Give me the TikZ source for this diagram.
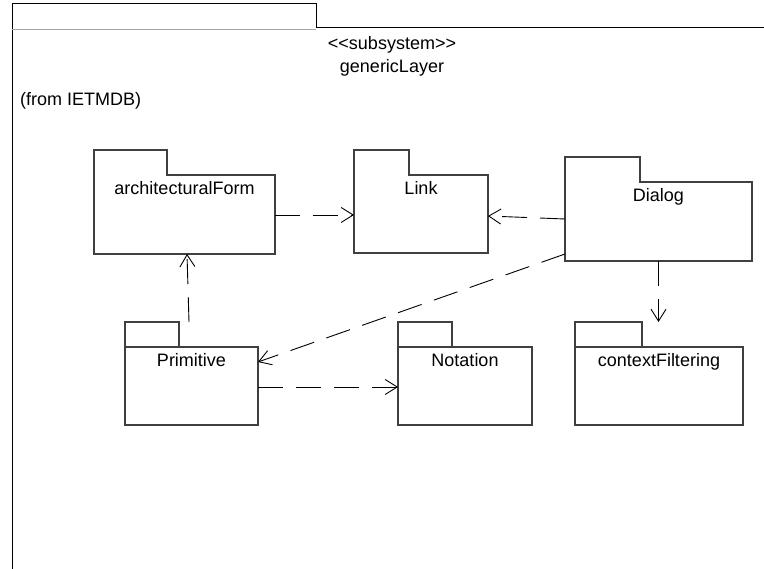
\documentclass[tikz,border=0pt]{standalone}
\usepackage{fontspec}
\setmainfont{Liberation Sans}
\usetikzlibrary{arrows.meta}

% outline of a UML package: tab on the upper left, body below
% #1 = node spanning tab and body, #2 = tab width
\newcommand\pkgoutline[2]{%
  \draw[pkgline] (#1.north west) -- ++(#2,0) -- ++(0,25)
    -| (#1.south east) -| (#1.north west) -- cycle;%
}
% same, with the body's top edge continued under the tab
\newcommand\pkgoutlinefull[2]{%
  \pkgoutline{#1}{#2}%
  \draw[pkgline] (#1.north west) ++(0,25) -- ++(#2,0);%
}

\begin{document}
\begin{tikzpicture}[x=1pt,y=-1pt,
  lbl/.style={font=\fontsize{18}{21}\selectfont, inner sep=0pt, anchor=base},
  pkgbox/.style={draw=none, inner sep=0pt, outer sep=0pt, rectangle, anchor=north west},
  pkgline/.style={draw=black!75, line width=1.1pt},
  dep/.style={draw=black, line width=0.9pt, dash pattern=on 25pt off 13pt,
    -{Straight Barb[length=12pt,width=15pt]}},
]
\useasboundingbox (0,0) rectangle (764,569);

% enclosing subsystem frame
\draw[black, line width=1pt] (12,569) -- (12,4) -- (316,4) -- (316,28) -- (764,28);
\draw[black!35, line width=0.8pt] (12,29) -- (316,29);
\node[lbl] (stereo) at (392,50) {<{}<subsystem>{}>};
\node[lbl] (sysname) at (392,73) {genericLayer};
\node[lbl, anchor=base west] (origin) at (20,106) {(from IETMDB)};

% packages
\node[pkgbox, minimum width=181pt, minimum height=104pt] (af) at (94,150) {};
\node[pkgbox, minimum width=134pt, minimum height=103pt] (ln) at (354,150) {};
\node[pkgbox, minimum width=187pt, minimum height=104pt] (dl) at (565,157) {};
\node[pkgbox, minimum width=133pt, minimum height=103pt] (pr) at (125,322) {};
\node[pkgbox, minimum width=134pt, minimum height=103pt] (nt) at (398,322) {};
\node[pkgbox, minimum width=168pt, minimum height=103pt] (cf) at (575,322) {};

\pkgoutline{af}{73}
\pkgoutline{ln}{55}
\pkgoutline{dl}{75}
\pkgoutlinefull{pr}{54}
\pkgoutlinefull{nt}{54}
\pkgoutlinefull{cf}{67}

\node[lbl] (afl) at ([yshift=-45pt]af.north) {architecturalForm};
\node[lbl] (lnl) at ([yshift=-45pt]ln.north) {Link};
\node[lbl] (dll) at ([yshift=-45pt]dl.north) {Dialog};
\node[lbl] (prl) at ([yshift=-45pt]pr.north) {Primitive};
\node[lbl] (ntl) at ([yshift=-45pt]nt.north) {Notation};
\node[lbl] (cfl) at ([yshift=-45pt]cf.north) {contextFiltering};

% dependencies
\draw[dep] ([yshift=-13pt]af.east) -- ([yshift=-13.5pt]ln.west);
\draw[dep] ([yshift=-10pt]dl.west) -- ([yshift=-14.5pt]ln.east);
\draw[dep] ([yshift=-45pt]dl.west) -- ([yshift=11.5pt]pr.east);
\draw[dep] (dl.south) -- (dl.south |- cf.north);
\draw[dep] ([xshift=-2.5pt]pr.north) -- ([xshift=2.5pt]af.south);
\draw[dep] ([yshift=-13.5pt]pr.east) -- ([yshift=-13.5pt]nt.west);
\end{tikzpicture}
\end{document}
